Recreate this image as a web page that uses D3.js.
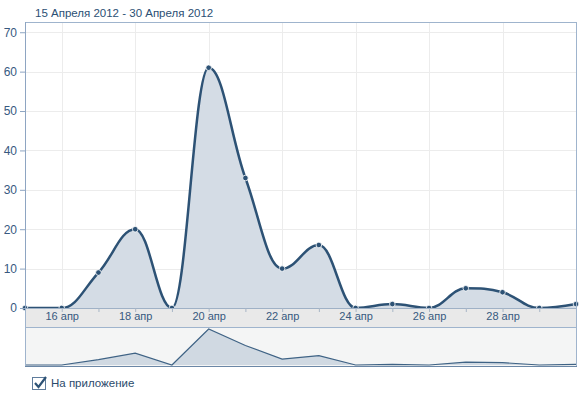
<!DOCTYPE html>
<html>
<head>
<meta charset="utf-8">
<title>Статистика</title>
<script src="https://d3js.org/d3.v7.min.js"></script>
<style>
  body { margin: 0; background: #fff; }
  svg text { font-family: "Liberation Sans", Arial, sans-serif; font-size: 11px; }
</style>
</head>
<body>
<script>
// данные
var days = [15, 16, 17, 18, 19, 20, 21, 22, 23, 24, 25, 26, 27, 28, 29, 30];
var values = [0, 0, 9, 20, 0, 61, 33, 10, 16, 0, 1, 0, 5, 4, 0, 1];
var yTicks = [0, 10, 20, 30, 40, 50, 60, 70];
var xTicks = [16, 18, 20, 22, 24, 26, 28];
var title = "15 Апреля 2012 - 30 Апреля 2012";
var checkLabel = "На приложение";

var W = 587, H = 396;
var pLeft = 25, pRight = 576, pTop = 22, pBottom = 308;
var navTop = 327, navBottom = 366;

var data = days.map(function(d, i) { return {day: d, v: values[i]}; });

var svg = d3.select("body").append("svg")
    .attr("width", W).attr("height", H);

var x = d3.scaleLinear().domain([15, 30]).range([pLeft, pRight]);
var y = d3.scaleLinear().domain([0, 72.6]).range([pBottom, pTop]);
var yNav = d3.scaleLinear().domain([0, 61]).range([navBottom - 1, navTop + 2]);

// сплайн как в highcharts
function HCSpline(ctx) { this._ctx = ctx; }
HCSpline.prototype = {
  areaStart: function() {}, areaEnd: function() {},
  lineStart: function() { this._p = []; },
  point: function(px, py) { this._p.push([+px, +py]); },
  lineEnd: function() {
    var p = this._p, n = p.length, c = this._ctx, sm = 1.5, dn = sm + 1;
    var cp = p.map(function(pt, i) {
      if (i === 0 || i === n - 1) return {lx: pt[0], ly: pt[1], rx: pt[0], ry: pt[1]};
      var a = p[i - 1], b = p[i + 1];
      var lx = (sm * pt[0] + a[0]) / dn, ly = (sm * pt[1] + a[1]) / dn;
      var rx = (sm * pt[0] + b[0]) / dn, ry = (sm * pt[1] + b[1]) / dn;
      var corr = ((ry - ly) * (rx - pt[0])) / (rx - lx) + pt[1] - ry;
      ly += corr; ry += corr;
      if (ly > a[1] && ly > pt[1]) { ly = Math.max(a[1], pt[1]); ry = 2 * pt[1] - ly; }
      else if (ly < a[1] && ly < pt[1]) { ly = Math.min(a[1], pt[1]); ry = 2 * pt[1] - ly; }
      if (ry > b[1] && ry > pt[1]) { ry = Math.max(b[1], pt[1]); ly = 2 * pt[1] - ry; }
      else if (ry < b[1] && ry < pt[1]) { ry = Math.min(b[1], pt[1]); ly = 2 * pt[1] - ry; }
      return {lx: lx, ly: ly, rx: rx, ry: ry};
    });
    c.moveTo(p[0][0], p[0][1]);
    for (var i = 1; i < n; i++) {
      c.bezierCurveTo(cp[i - 1].rx, cp[i - 1].ry, cp[i].lx, cp[i].ly, p[i][0], p[i][1]);
    }
  }
};
function curveHC(ctx) { return new HCSpline(ctx); }

// сетка
svg.append("g").selectAll("line").data(yTicks).enter().append("line")
    .attr("x1", pLeft).attr("x2", pRight)
    .attr("y1", function(d) { return Math.round(y(d)) + 0.5; })
    .attr("y2", function(d) { return Math.round(y(d)) + 0.5; })
    .attr("stroke", "#ececec");
svg.append("g").selectAll("line").data(xTicks).enter().append("line")
    .attr("x1", function(d) { return Math.round(x(d)) + 0.5; })
    .attr("x2", function(d) { return Math.round(x(d)) + 0.5; })
    .attr("y1", pTop).attr("y2", pBottom)
    .attr("stroke", "#ececec");

// область и линия
var line = d3.line().x(function(d) { return x(d.day); }).y(function(d) { return y(d.v); }).curve(curveHC);
var lp = line(data);
svg.append("path")
    .attr("d", lp + "L" + x(30) + "," + y(0) + "L" + x(15) + "," + y(0) + "Z")
    .attr("fill", "#d4dce5");
svg.append("path").attr("d", lp)
    .attr("fill", "none").attr("stroke", "#2d5275").attr("stroke-width", 2.5);

// точки
svg.append("g").selectAll("circle").data(data).enter().append("circle")
    .attr("cx", function(d) { return x(d.day); })
    .attr("cy", function(d) { return y(d.v); })
    .attr("r", 2.8)
    .attr("fill", "#2d5275").attr("stroke", "#fff").attr("stroke-width", 0.8);

// полоса оси X
svg.append("rect").attr("x", pLeft).attr("y", pBottom).attr("width", pRight - pLeft).attr("height", navTop - pBottom)
    .attr("fill", "#e9e9e9");
var xAxis = svg.append("g").attr("transform", "translate(0," + pBottom + ")")
    .call(d3.axisBottom(x).tickValues(d3.range(16, 30)).tickSize(4)
        .tickFormat(function(d) { return d % 2 === 0 ? d + " апр" : ""; }));
xAxis.select(".domain").attr("stroke", "#9fb1c6");
xAxis.selectAll(".tick line").attr("stroke", "#a8b6c6");
xAxis.selectAll(".tick text").attr("fill", "#37597f").attr("dy", "0.9em").attr("y", 2)
    .style("font-size", "11px");

// ось Y
var yAxis = svg.append("g").attr("transform", "translate(" + pLeft + ",0)")
    .call(d3.axisLeft(y).tickValues(yTicks).tickSize(5).tickPadding(3));
yAxis.select(".domain").remove();
yAxis.selectAll(".tick line").attr("stroke", "#8ea5c2");
yAxis.selectAll(".tick text").attr("fill", "#37597f").style("font-size", "12px");

// навигатор
svg.append("rect").attr("x", pLeft).attr("y", navTop).attr("width", pRight - pLeft).attr("height", navBottom - navTop)
    .attr("fill", "#f4f5f5");
var navLine = d3.line().x(function(d) { return x(d.day); }).y(function(d) { return yNav(d.v); });
var nl = navLine(data);
svg.append("path").attr("d", nl + "L" + x(30) + "," + yNav(0) + "L" + x(15) + "," + yNav(0) + "Z")
    .attr("fill", "#d0d9e2");
svg.append("path").attr("d", nl).attr("fill", "none").attr("stroke", "#3f6385").attr("stroke-width", 1.2);

// рамки
svg.append("rect").attr("x", pLeft + 0.5).attr("y", pTop + 0.5)
    .attr("width", pRight - pLeft).attr("height", navBottom - pTop)
    .attr("fill", "none").attr("stroke", "#9fb4cd");
svg.append("line").attr("x1", pLeft).attr("x2", pRight + 1).attr("y1", navTop + 0.5).attr("y2", navTop + 0.5)
    .attr("stroke", "#9fb4cd");
svg.append("line").attr("x1", pLeft).attr("x2", pRight + 1).attr("y1", navBottom + 0.5).attr("y2", navBottom + 0.5)
    .attr("stroke", "#6b87a6");
svg.append("line").attr("x1", pLeft + 0.5).attr("x2", pLeft + 0.5).attr("y1", pTop).attr("y2", pBottom)
    .attr("stroke", "#8ea5c2");

// заголовок
svg.append("text").attr("x", 35).attr("y", 17).attr("fill", "#2b4f74").style("font-size", "11.5px").text(title);

// чекбокс
svg.append("rect").attr("x", 32.5).attr("y", 377.5).attr("width", 13).attr("height", 12)
    .attr("fill", "#fff").attr("stroke", "#5f7c9c");
svg.append("path").attr("d", "M35,383 L38.5,387 L46,377")
    .attr("fill", "none").attr("stroke", "#2d5275").attr("stroke-width", 2.2);
svg.append("text").attr("x", 51).attr("y", 387).attr("fill", "#2b4a6b").style("font-size", "11.5px").text(checkLabel);
</script>
</body>
</html>
